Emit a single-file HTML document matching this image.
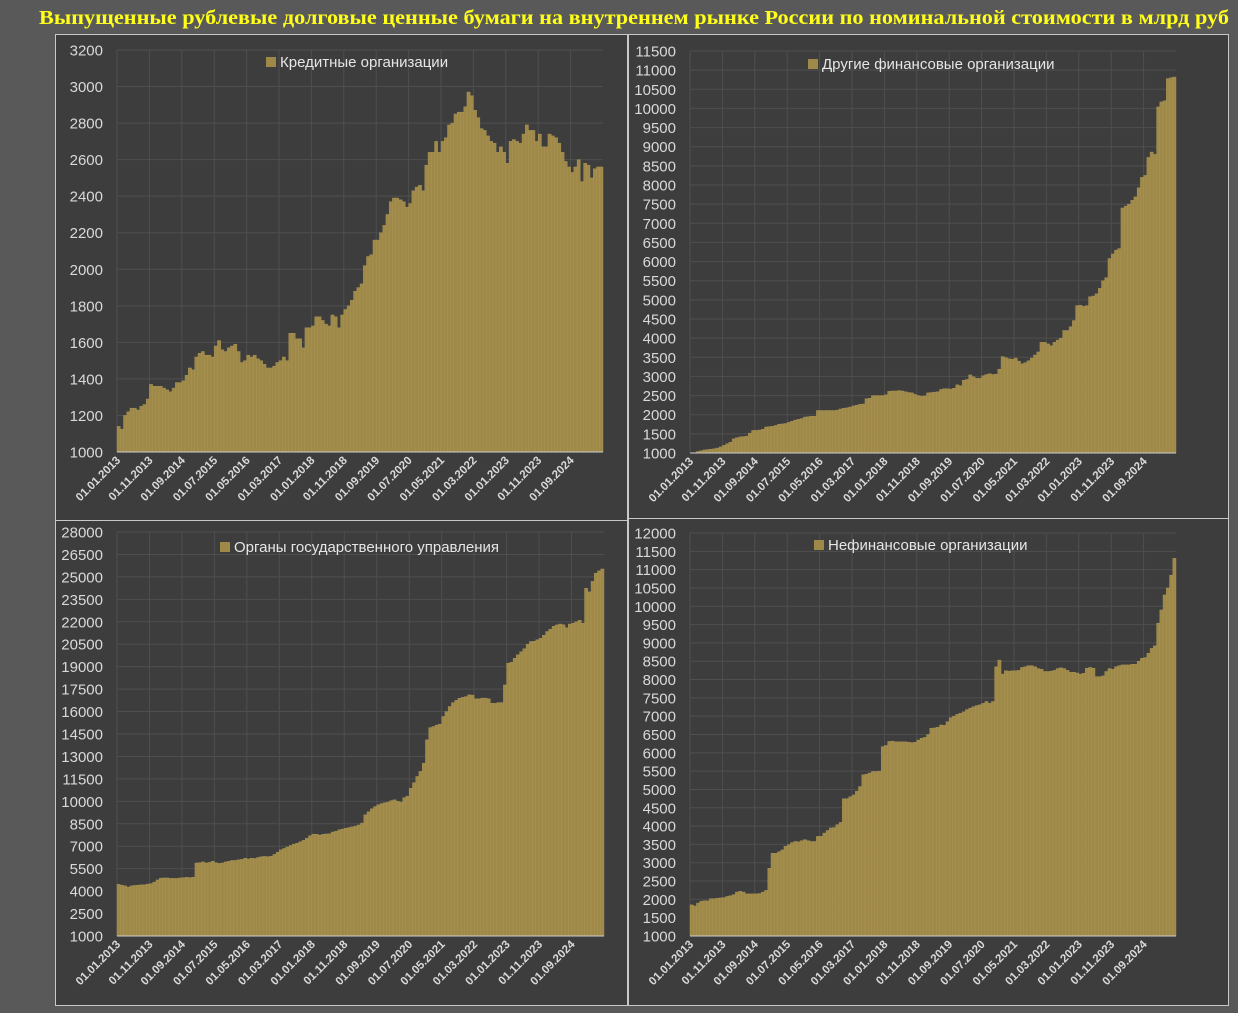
<!DOCTYPE html>
<html><head><meta charset="utf-8"><style>
html,body{margin:0;padding:0;background:#595959;}
svg{display:block;font-family:"Liberation Sans",sans-serif;}
</style></head><body>
<svg id="root" width="1238" height="1013" viewBox="0 0 1238 1013">
<rect x="0" y="0" width="1238" height="1013" fill="#595959"/>
<text x="634" y="24" text-anchor="middle" fill="#ffff1a" font-family="Liberation Serif, serif" font-weight="bold" font-size="19.5" textLength="1190" lengthAdjust="spacingAndGlyphs">Выпущенные рублевые долговые ценные бумаги на внутреннем рынке России по номинальной стоимости в млрд руб</text>
</svg>
<script>
const dateLabels = ["01.01.2013","01.11.2013","01.09.2014","01.07.2015","01.05.2016","01.03.2017","01.01.2018","01.11.2018","01.09.2019","01.07.2020","01.05.2021","01.03.2022","01.01.2023","01.11.2023","01.09.2024"];

const creditOrgs = [1140,1125,1200,1220,1240,1240,1230,1250,1260,1290,
1370,1360,1360,1360,1350,1340,1330,1350,1380,1380,
1390,1420,1460,1450,1520,1540,1550,1530,1530,1520,
1580,1610,1560,1550,1570,1580,1590,1550,1490,1500,
1530,1520,1530,1510,1500,1480,1460,1460,1470,1490,
1500,1520,1500,1650,1650,1620,1620,1570,1680,1680,
1690,1740,1740,1720,1700,1690,1750,1740,1680,1750,
1780,1800,1830,1880,1900,1920,2020,2070,2080,2160,
2160,2200,2240,2300,2370,2390,2390,2380,2370,2340,
2360,2430,2450,2460,2430,2570,2640,2640,2700,2640,
2700,2720,2790,2800,2850,2860,2860,2890,2970,2950,
2870,2830,2770,2760,2730,2700,2690,2640,2670,2640,
2580,2700,2710,2700,2690,2740,2790,2760,2760,2700,
2740,2670,2670,2740,2730,2720,2690,2640,2590,2560,
2530,2560,2600,2480,2580,2570,2500,2550,2560,2560];
const creditTicks = [1000,1200,1400,1600,1800,2000,2200,2400,2600,2800,3000,3200];

const otherFin = [1000,1010,1040,1060,1080,1090,1100,1110,1130,1160,
1200,1240,1280,1370,1400,1420,1430,1440,1520,1590,
1590,1600,1620,1680,1690,1700,1720,1750,1760,1770,
1800,1830,1860,1880,1900,1940,1950,1960,1960,2110,
2110,2110,2110,2110,2110,2120,2150,2170,2180,2200,
2230,2250,2270,2280,2420,2430,2500,2500,2500,2500,
2520,2610,2620,2620,2630,2620,2600,2580,2570,2530,
2500,2480,2490,2570,2580,2590,2600,2660,2680,2680,
2670,2690,2780,2760,2900,2920,3040,2990,2950,2950,
3020,3050,3070,3050,3060,3190,3520,3490,3460,3450,
3480,3400,3330,3360,3410,3480,3560,3640,3890,3890,
3850,3800,3890,3950,4000,4200,4200,4300,4460,4850,
4860,4830,4850,5080,5100,5160,5300,5500,5580,6080,
6200,6300,6340,7400,7450,7500,7600,7690,7930,8200,
8250,8720,8860,8800,10040,10170,10200,10780,10800,10820];
const otherFinTicks = [1000,1500,2000,2500,3000,3500,4000,4500,5000,5500,6000,6500,7000,7500,8000,8500,9000,9500,10000,10500,11000,11500];

const govBodies = [4450,4400,4350,4270,4350,4380,4400,4420,4430,4470,
4500,4600,4750,4870,4880,4880,4850,4850,4850,4880,
4900,4920,4900,4930,5880,5900,5950,5880,5920,6000,
5900,5850,5880,5950,6000,6050,6050,6100,6120,6200,
6150,6200,6180,6250,6300,6320,6300,6330,6450,6600,
6760,6850,6950,7050,7140,7200,7300,7400,7540,7700,
7810,7800,7750,7800,7820,7830,7950,8000,8100,8150,
8200,8250,8300,8350,8420,8550,9100,9300,9500,9650,
9770,9850,9900,9950,10050,10100,10000,9950,10250,10350,
10880,11250,11660,12000,12550,14110,14930,15000,15100,15160,
15670,16000,16340,16600,16750,16890,16950,17000,17120,17100,
16850,16850,16900,16900,16850,16560,16550,16600,16600,17780,
19230,19300,19560,19800,20000,20200,20500,20680,20700,20800,
20900,21100,21350,21500,21700,21790,21850,21800,21600,21850,
21900,22000,22100,21900,24240,24000,24700,25240,25400,25530];
const govTicks = [1000,2500,4000,5500,7000,8500,10000,11500,13000,14500,16000,17500,19000,20500,22000,23500,25000,26500,28000];

const nonFin = [1850,1820,1900,1950,1960,1960,2020,2020,2030,2040,
2050,2080,2100,2130,2200,2220,2200,2150,2150,2150,
2150,2160,2200,2245,2850,3260,3260,3300,3350,3450,
3490,3550,3580,3570,3600,3630,3600,3580,3580,3720,
3720,3810,3880,3950,3960,4040,4100,4745,4750,4800,
4850,4950,5080,5400,5420,5450,5490,5490,5500,6170,
6200,6310,6320,6300,6300,6300,6300,6290,6280,6290,
6350,6400,6420,6500,6670,6680,6700,6760,6750,6850,
6960,7000,7050,7080,7120,7180,7220,7260,7290,7310,
7350,7400,7350,7400,8350,8530,8150,8240,8230,8240,
8240,8250,8330,8350,8380,8380,8350,8300,8280,8220,
8220,8230,8250,8300,8320,8300,8250,8200,8200,8180,
8150,8170,8310,8330,8310,8080,8080,8100,8220,8300,
8280,8350,8380,8400,8400,8400,8420,8420,8500,8580,
8600,8720,8850,8920,9540,9900,10310,10500,10850,11310];
const nonFinTicks = [1000,1500,2000,2500,3000,3500,4000,4500,5000,5500,6000,6500,7000,7500,8000,8500,9000,9500,10000,10500,11000,11500,12000];

const NS = "http://www.w3.org/2000/svg";
const root = document.getElementById('root');
function mk(tag, attrs, parent){
  const e = document.createElementNS(NS, tag);
  for (const k in attrs) e.setAttribute(k, attrs[k]);
  parent.appendChild(e);
  return e;
}

function drawPanel(cfg){
  const g = mk('g', {}, root);
  
  
  const bg = mk('rect', {x:cfg.px+0.5, y:cfg.py+0.5, width:cfg.pw, height:cfg.ph, fill:'#3d3d3d', stroke:'#c8c8c8', 'stroke-width':1}, g);
  
  
  const ticks = cfg.ticks;
  const vmin = ticks[0], vmax = ticks[ticks.length-1];
  const yScale = v => cfg.bottom - (v - vmin) / (vmax - vmin) * (cfg.bottom - cfg.top);
  const n = cfg.data.length;
  const step = (cfg.right - cfg.left) / n;
  const xScale = i => cfg.left + i * step;
  // horizontal grid + y labels
  ticks.forEach(t => {
    const y = yScale(t);
    const gl = mk('line', {x1:cfg.left, x2:cfg.right, y1:y, y2:y, stroke:'#4f4f4f', 'stroke-width':1}, g);
    
    
    const tl = mk('text', {x:cfg.left-14, y:y+5.5, 'text-anchor':'end', fill:'#d9d9d9', 'font-size':15}, g);
    tl.textContent = t;
    
    
  });
  // vertical grid + x labels
  dateLabels.forEach((lab, k) => {
    const x = xScale(k*10);
    const vl = mk('line', {x1:x, x2:x, y1:cfg.top, y2:cfg.bottom, stroke:'#4f4f4f', 'stroke-width':1}, g);
    
    
    const tx = x + 4, ty = cfg.bottom + 9;
    const xl = mk('text', {x:tx, y:ty, 'text-anchor':'end', fill:'#d9d9d9', 'font-size':11.5, 'font-weight':'bold', transform:'rotate(-45 '+tx+' '+ty+')'}, g);
    xl.textContent = lab;
    
    
  });
  // bars
  cfg.data.forEach((v, i) => {
    const y = yScale(v);
    const b = mk('rect', {x:xScale(i), y:y, width:step, height:cfg.bottom - y, fill:'#9f8948', stroke:'#ae9859', 'stroke-width':0.4}, g);
    
    
  });
  const ax = mk('line', {x1:cfg.left, x2:cfg.right, y1:cfg.bottom, y2:cfg.bottom, stroke:'#d0d0d0', 'stroke-width':1}, g);
  
  
  // legend
  const sw = mk('rect', {x:cfg.lx, y:cfg.ly-10, width:10, height:10, fill:'#9f8948'}, g);
  
  
  const lt = mk('text', {x:cfg.lx+14, y:cfg.ly, fill:'#e6e6e6', 'font-size':15}, g);
  lt.textContent = cfg.legend;
  
  
}

drawPanel({name:'credit-orgs', px:55, py:34, pw:572, ph:486, left:117, right:603, top:50, bottom:452, data:creditOrgs, ticks:creditTicks, lx:266, ly:67, legend:'Кредитные организации'});
drawPanel({name:'other-financial', px:628, py:34, pw:600, ph:484, left:690, right:1176, top:51, bottom:453, data:otherFin, ticks:otherFinTicks, lx:808, ly:69, legend:'Другие финансовые организации'});
drawPanel({name:'government-bodies', px:55, py:520, pw:572, ph:485, left:117, right:604, top:532, bottom:936, data:govBodies, ticks:govTicks, lx:220, ly:552, legend:'Органы государственного управления'});
drawPanel({name:'non-financial', px:628, py:518, pw:600, ph:487, left:690, right:1176, top:533, bottom:936, data:nonFin, ticks:nonFinTicks, lx:814, ly:550, legend:'Нефинансовые организации'});
</script>
</body></html>
